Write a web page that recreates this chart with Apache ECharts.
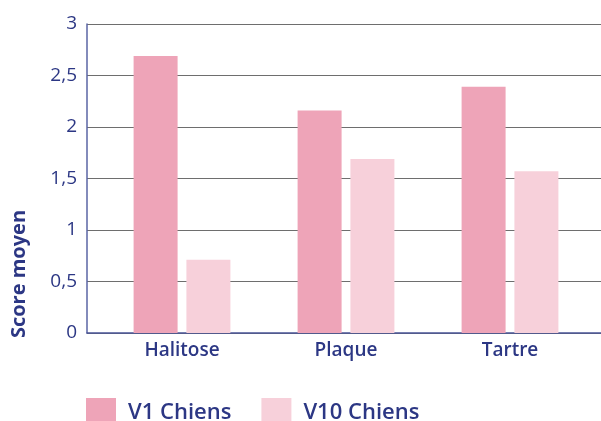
<!DOCTYPE html>
<html>
<head>
<meta charset="utf-8">
<script src="https://cdn.jsdelivr.net/npm/echarts@6/dist/echarts.min.js"></script>
<style>
  html, body { margin: 0; padding: 0; background: #fff; }
  #chart { width: 601px; height: 421px; }
</style>
</head>
<body>
<div id="chart"></div>
<script>
  // données
  var categories = ['Halitose', 'Plaque', 'Tartre'];
  var seriesNames = ['V1 Chiens', 'V10 Chiens'];
  var v1Values = [2.69, 2.16, 2.39];
  var v10Values = [0.71, 1.69, 1.57];
  var yMin = 0, yMax = 3, yStep = 0.5;
  var axisTitle = 'Score moyen';

  var colors = ['#eea4b8', '#f7d0da'];
  var textColor = '#2c3784';
  var font = '"Open Sans", sans-serif';

  var chart = echarts.init(document.getElementById('chart'));
  chart.setOption({
    color: colors,
    animation: false,
    grid: [
      // grille de fond : axe Y, lignes horizontales
      { left: 87, right: 0, top: 24, bottom: 88 },
      // grille des barres
      { left: 100, right: 9, top: 24, bottom: 88 }
    ],
    legend: {
      data: seriesNames,
      left: 81,
      top: 393,
      itemWidth: 30,
      itemHeight: 30,
      itemGap: 30,
      icon: 'rect',
      textStyle: {
        color: textColor,
        fontFamily: font,
        fontSize: 22,
        fontWeight: 600,
        padding: [0, 0, 0, 7]
      }
    },
    xAxis: [
      {
        gridIndex: 0,
        type: 'value',
        min: 0, max: 1,
        axisLine: { show: true, onZero: false, lineStyle: { color: '#4a5497', width: 1.5 } },
        axisTick: { show: false },
        axisLabel: { show: false },
        splitLine: { show: false }
      },
      {
        gridIndex: 1,
        type: 'category',
        data: categories,
        axisLine: { show: false },
        axisTick: { show: false },
        axisLabel: {
          color: textColor,
          fontFamily: font,
          fontSize: 19,
          fontWeight: 600,
          margin: 8
        }
      }
    ],
    yAxis: [
      {
        gridIndex: 0,
        type: 'value',
        min: yMin, max: yMax, interval: yStep,
        axisLine: { show: true, lineStyle: { color: '#5a64a4', width: 1.5 } },
        axisTick: { show: false },
        axisLabel: {
          color: textColor,
          fontFamily: font,
          fontSize: 19,
          margin: 10,
          formatter: function (v) { return String(v).replace('.', ','); }
        },
        splitLine: { lineStyle: { color: '#6e6e6e', width: 1 } }
      },
      {
        gridIndex: 1,
        type: 'value',
        min: yMin, max: yMax, interval: yStep,
        axisLine: { show: false },
        axisTick: { show: false },
        axisLabel: { show: false },
        splitLine: { show: false }
      }
    ],
    graphic: [
      {
        type: 'text',
        x: 19,
        y: 274,
        rotation: Math.PI / 2,
        style: {
          text: axisTitle,
          fill: textColor,
          font: '700 20px ' + font,
          textAlign: 'center',
          textVerticalAlign: 'middle'
        }
      }
    ],
    series: [
      {
        name: seriesNames[0],
        type: 'bar',
        xAxisIndex: 1,
        yAxisIndex: 1,
        barWidth: 44,
        barGap: '20%',
        data: v1Values
      },
      {
        name: seriesNames[1],
        type: 'bar',
        xAxisIndex: 1,
        yAxisIndex: 1,
        barWidth: 44,
        barGap: '20%',
        data: v10Values
      }
    ]
  });
</script>
</body>
</html>
